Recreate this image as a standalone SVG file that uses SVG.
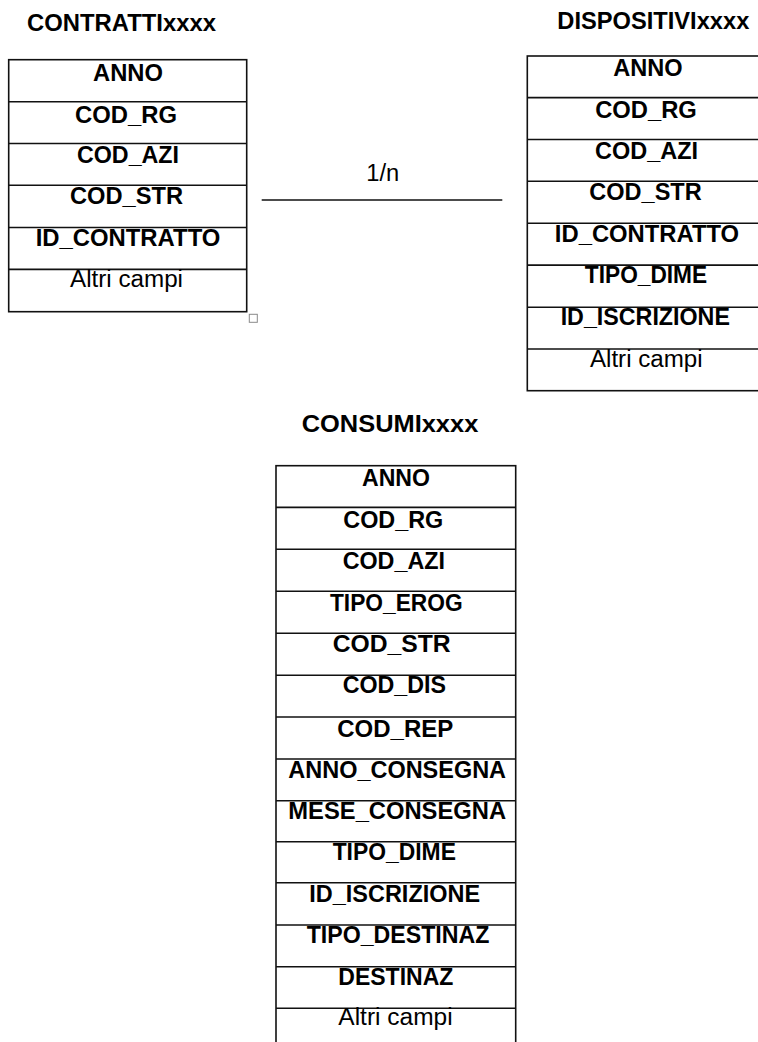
<svg xmlns="http://www.w3.org/2000/svg" width="758" height="1042" viewBox="0 0 758 1042">
<style>
.bg{fill:#fff}
.box{fill:#fff;stroke:#111;stroke-width:1.6}
.sep{stroke:#111;stroke-width:1.6}
.t{font-family:"Liberation Sans",Arial,sans-serif;font-size:23px;fill:#000;text-anchor:middle}
.b{font-weight:bold}
.title{font-family:"Liberation Sans",Arial,sans-serif;font-size:23px;font-weight:bold;fill:#000}
.conn{stroke:#111;stroke-width:1.6}
.handle{fill:#fff;stroke:#8a8a8a;stroke-width:1}
</style>
<rect class="bg" x="0" y="0" width="758" height="1042"/>

<g id="contratti">
  <text class="title" x="27" y="31" textLength="189" lengthAdjust="spacingAndGlyphs">CONTRATTIxxxx</text>
  <rect class="box" x="8.7" y="59.7" width="238" height="252"/>
  <line class="sep" x1="8.7" y1="101.7" x2="246.7" y2="101.7"/>
  <line class="sep" x1="8.7" y1="143.5" x2="246.7" y2="143.5"/>
  <line class="sep" x1="8.7" y1="185.2" x2="246.7" y2="185.2"/>
  <line class="sep" x1="8.7" y1="227.5" x2="246.7" y2="227.5"/>
  <line class="sep" x1="8.7" y1="269.4" x2="246.7" y2="269.4"/>
  <text class="t b" x="128" y="81" textLength="70" lengthAdjust="spacingAndGlyphs">ANNO</text>
  <text class="t b" x="126" y="122.7" textLength="102" lengthAdjust="spacingAndGlyphs">COD_RG</text>
  <text class="t b" x="128" y="163.3" textLength="102" lengthAdjust="spacingAndGlyphs">COD_AZI</text>
  <text class="t b" x="126.5" y="204" textLength="113" lengthAdjust="spacingAndGlyphs">COD_STR</text>
  <text class="t b" x="128" y="246" textLength="184.7" lengthAdjust="spacingAndGlyphs">ID_CONTRATTO</text>
  <text class="t" x="126.5" y="287.3" textLength="113" lengthAdjust="spacingAndGlyphs">Altri campi</text>
  <rect class="handle" x="249.3" y="314.3" width="8" height="8"/>
</g>

<g id="dispositivi">
  <text class="title" x="557.3" y="29.3" textLength="192" lengthAdjust="spacingAndGlyphs">DISPOSITIVIxxxx</text>
  <rect class="box" x="527.3" y="56" width="238.5" height="334.7"/>
  <line class="sep" x1="527.3" y1="97.6" x2="766" y2="97.6"/>
  <line class="sep" x1="527.3" y1="139.5" x2="766" y2="139.5"/>
  <line class="sep" x1="527.3" y1="181.2" x2="766" y2="181.2"/>
  <line class="sep" x1="527.3" y1="223.3" x2="766" y2="223.3"/>
  <line class="sep" x1="527.3" y1="265.1" x2="766" y2="265.1"/>
  <line class="sep" x1="527.3" y1="307.2" x2="766" y2="307.2"/>
  <line class="sep" x1="527.3" y1="349" x2="766" y2="349"/>
  <text class="t b" x="648" y="76" textLength="69.4" lengthAdjust="spacingAndGlyphs">ANNO</text>
  <text class="t b" x="646" y="118.3" textLength="101.7" lengthAdjust="spacingAndGlyphs">COD_RG</text>
  <text class="t b" x="646.5" y="159.3" textLength="103" lengthAdjust="spacingAndGlyphs">COD_AZI</text>
  <text class="t b" x="645.5" y="200" textLength="112.4" lengthAdjust="spacingAndGlyphs">COD_STR</text>
  <text class="t b" x="647" y="241.7" textLength="184.3" lengthAdjust="spacingAndGlyphs">ID_CONTRATTO</text>
  <text class="t b" x="646" y="283.3" textLength="122.3" lengthAdjust="spacingAndGlyphs">TIPO_DIME</text>
  <text class="t b" x="645.3" y="325" textLength="169.3" lengthAdjust="spacingAndGlyphs">ID_ISCRIZIONE</text>
  <text class="t" x="646.3" y="367.3" textLength="112.7" lengthAdjust="spacingAndGlyphs">Altri campi</text>
</g>

<g id="consumi">
  <text class="title" x="301.7" y="431.7" textLength="176.6" lengthAdjust="spacingAndGlyphs">CONSUMIxxxx</text>
  <rect class="box" x="276" y="465.7" width="239.7" height="590"/>
  <line class="sep" x1="276" y1="507.4" x2="515.7" y2="507.4"/>
  <line class="sep" x1="276" y1="549.3" x2="515.7" y2="549.3"/>
  <line class="sep" x1="276" y1="591.3" x2="515.7" y2="591.3"/>
  <line class="sep" x1="276" y1="633.3" x2="515.7" y2="633.3"/>
  <line class="sep" x1="276" y1="675.3" x2="515.7" y2="675.3"/>
  <line class="sep" x1="276" y1="717" x2="515.7" y2="717"/>
  <line class="sep" x1="276" y1="759" x2="515.7" y2="759"/>
  <line class="sep" x1="276" y1="800.7" x2="515.7" y2="800.7"/>
  <line class="sep" x1="276" y1="841.8" x2="515.7" y2="841.8"/>
  <line class="sep" x1="276" y1="882.8" x2="515.7" y2="882.8"/>
  <line class="sep" x1="276" y1="925" x2="515.7" y2="925"/>
  <line class="sep" x1="276" y1="966.7" x2="515.7" y2="966.7"/>
  <line class="sep" x1="276" y1="1008.3" x2="515.7" y2="1008.3"/>
  <text class="t b" x="396" y="486" textLength="68" lengthAdjust="spacingAndGlyphs">ANNO</text>
  <text class="t b" x="393.3" y="528.3" textLength="100" lengthAdjust="spacingAndGlyphs">COD_RG</text>
  <text class="t b" x="393.8" y="569.3" textLength="102.3" lengthAdjust="spacingAndGlyphs">COD_AZI</text>
  <text class="t b" x="396.3" y="610.7" textLength="132.7" lengthAdjust="spacingAndGlyphs">TIPO_EROG</text>
  <text class="t b" x="391.7" y="651.7" textLength="118" lengthAdjust="spacingAndGlyphs">COD_STR</text>
  <text class="t b" x="394.3" y="693.3" textLength="103.3" lengthAdjust="spacingAndGlyphs">COD_DIS</text>
  <text class="t b" x="395.3" y="736.7" textLength="116" lengthAdjust="spacingAndGlyphs">COD_REP</text>
  <text class="t b" x="397.2" y="778.3" textLength="217.7" lengthAdjust="spacingAndGlyphs">ANNO_CONSEGNA</text>
  <text class="t b" x="397.2" y="819.3" textLength="217.7" lengthAdjust="spacingAndGlyphs">MESE_CONSEGNA</text>
  <text class="t b" x="394.3" y="860" textLength="123.3" lengthAdjust="spacingAndGlyphs">TIPO_DIME</text>
  <text class="t b" x="394.7" y="901.7" textLength="170.7" lengthAdjust="spacingAndGlyphs">ID_ISCRIZIONE</text>
  <text class="t b" x="398" y="942.7" textLength="182.7" lengthAdjust="spacingAndGlyphs">TIPO_DESTINAZ</text>
  <text class="t b" x="395.8" y="985" textLength="115" lengthAdjust="spacingAndGlyphs">DESTINAZ</text>
  <text class="t" x="395.5" y="1025" textLength="114.3" lengthAdjust="spacingAndGlyphs">Altri campi</text>
</g>

<g id="connectors">
  <line class="conn" x1="261.7" y1="200" x2="502.3" y2="200"/>
  <text class="t" x="382.7" y="180.7" textLength="33" lengthAdjust="spacingAndGlyphs">1/n</text>
</g>
</svg>
